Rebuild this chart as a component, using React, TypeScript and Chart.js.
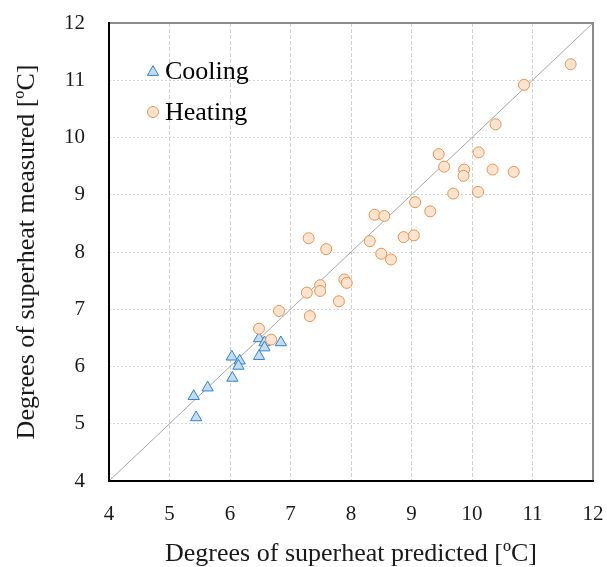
import React, { useEffect, useRef } from "react";
import { Chart, registerables } from "chart.js";

Chart.register(...registerables);

const seriesLabels = ["Cooling", "Heating"];

const coolingPredicted = [5.40, 5.44, 5.63, 6.03, 6.04, 6.16, 6.14, 6.48, 6.57, 6.57, 6.48, 6.84];
const coolingMeasured = [5.48, 5.11, 5.63, 6.17, 5.80, 6.10, 6.01, 6.49, 6.42, 6.33, 6.18, 6.42];

const heatingPredicted = [
  11.63, 10.86, 10.39, 9.45, 10.11, 9.54, 9.87, 9.86, 10.34, 10.69, 9.69,
  10.10, 9.06, 9.31, 8.39, 8.55, 7.30, 7.59, 8.31, 8.87, 9.04, 8.50, 8.66,
  7.89, 7.93, 7.49, 7.49, 7.27, 7.80, 6.81, 7.32, 6.48, 6.68,
];
const heatingMeasured = [
  11.28, 10.92, 10.23, 9.71, 9.74, 9.49, 9.44, 9.33, 9.44, 9.40, 9.02,
  9.05, 8.87, 8.71, 8.65, 8.63, 8.24, 8.05, 8.19, 8.26, 8.29, 7.97, 7.87,
  7.52, 7.46, 7.42, 7.32, 7.29, 7.14, 6.97, 6.88, 6.66, 6.47,
];

const axisMin = 4;
const axisMax = 12;
const xTitle = "Degrees of superheat predicted [ºC]";
const yTitle = "Degrees of superheat measured [ºC]";

const FONT = "'Liberation Serif', 'Times New Roman', serif";

const toPoints = (xs: number[], ys: number[]) => xs.map((x, i) => ({ x, y: ys[i] }));

const framePlugin = {
  id: "frameAndLegend",
  afterDatasetsDraw(chart: any) {
    const { ctx, chartArea } = chart;
    const { left, right, top, bottom } = chartArea;
    ctx.save();
    ctx.strokeStyle = "#8c8c8c";
    ctx.lineWidth = 2;
    ctx.beginPath();
    ctx.moveTo(left, top);
    ctx.lineTo(right, top);
    ctx.lineTo(right, bottom);
    ctx.stroke();
    ctx.strokeStyle = "#000000";
    ctx.lineWidth = 2;
    ctx.beginPath();
    ctx.moveTo(left, top - 1);
    ctx.lineTo(left, bottom);
    ctx.lineTo(right + 1, bottom);
    ctx.stroke();

    const lx = left + 44;
    let ly = top + 48;
    chart.data.datasets.forEach((ds: any) => {
      if (!ds.inLegend) return;
      ctx.fillStyle = ds.backgroundColor;
      ctx.strokeStyle = ds.borderColor;
      ctx.lineWidth = 1;
      ctx.beginPath();
      if (ds.pointStyle === "triangle") {
        const r = ds.pointRadius;
        const h = r * 1.5;
        const w = r * Math.sqrt(3);
        ctx.moveTo(lx, ly - h * 0.55);
        ctx.lineTo(lx + w / 2, ly + h * 0.45);
        ctx.lineTo(lx - w / 2, ly + h * 0.45);
        ctx.closePath();
      } else {
        ctx.arc(lx, ly, ds.pointRadius, 0, Math.PI * 2);
      }
      ctx.fill();
      ctx.stroke();
      ctx.fillStyle = "#000000";
      ctx.font = `26px ${FONT}`;
      ctx.textBaseline = "middle";
      ctx.textAlign = "left";
      ctx.fillText(ds.label, lx + 12, ly + 1);
      ly += 41;
    });
    ctx.restore();
  },
};

export default function App() {
  const ref = useRef<HTMLCanvasElement | null>(null);

  useEffect(() => {
    document.body.style.margin = "0";
    if (!ref.current) return;
    const chart = new Chart(ref.current, {
      type: "scatter",
      data: {
        datasets: [
          {
            label: seriesLabels[0],
            data: toPoints(coolingPredicted, coolingMeasured),
            pointStyle: "triangle",
            pointRadius: 6.5,
            pointBorderWidth: 1,
            backgroundColor: "#c6dbef",
            borderColor: "#2b84d3",
            order: 1,
            inLegend: true,
          } as any,
          {
            label: seriesLabels[1],
            data: toPoints(heatingPredicted, heatingMeasured),
            pointStyle: "circle",
            pointRadius: 5.5,
            pointBorderWidth: 1,
            backgroundColor: "#fde4d0",
            borderColor: "#ee9147",
            order: 0,
            inLegend: true,
          } as any,
          {
            label: "1:1",
            type: "line",
            data: [
              { x: axisMin, y: axisMin },
              { x: axisMax, y: axisMax },
            ],
            borderColor: "#a6a6a6",
            borderWidth: 1,
            pointRadius: 0,
            showLine: true,
            fill: false,
            order: 2,
          } as any,
        ],
      },
      options: {
        animation: false,
        responsive: false,
        layout: { padding: { left: 0, right: 14, top: 23, bottom: 0 } },
        plugins: {
          legend: { display: false },
          tooltip: { enabled: false },
        },
        scales: {
          x: {
            type: "linear",
            min: axisMin,
            max: axisMax,
            afterFit: (s: any) => {
              s.height = 86;
              s.paddingLeft = 0;
              s.paddingRight = 0;
            },
            ticks: {
              stepSize: 1,
              padding: 21,
              color: "#1a1a1a",
              font: { family: FONT, size: 21 },
            },
            grid: {
              color: "#d4d4d4",
              lineWidth: 1,
              drawTicks: false,
            },
            border: { display: false, dash: [4, 2] },
            title: {
              display: true,
              text: xTitle,
              color: "#1a1a1a",
              font: { family: FONT, size: 26, lineHeight: 1 },
              padding: { top: 0, bottom: 0 },
            },
          },
          y: {
            type: "linear",
            min: axisMin,
            max: axisMax,
            afterFit: (s: any) => {
              s.width = 109;
              s.paddingTop = 0;
              s.paddingBottom = 0;
            },
            ticks: {
              stepSize: 1,
              padding: 24,
              color: "#1a1a1a",
              font: { family: FONT, size: 21 },
            },
            grid: {
              color: "#d4d4d4",
              lineWidth: 1,
              drawTicks: false,
            },
            border: { display: false, dash: [2, 2] },
            title: {
              display: true,
              text: yTitle,
              color: "#1a1a1a",
              font: { family: FONT, size: 26, lineHeight: 1.2 },
              padding: { top: 12, bottom: 0 },
            },
          },
        },
      },
      plugins: [framePlugin],
    });
    return () => chart.destroy();
  }, []);

  return (
    <div style={{ width: 607, height: 567 }}>
      <canvas ref={ref} width={607} height={567} />
    </div>
  );
}
